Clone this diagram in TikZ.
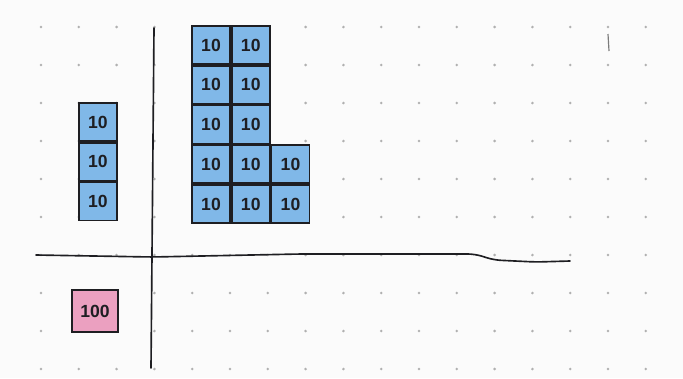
\documentclass[tikz,border=0pt]{standalone}
\usepackage{fontspec}
\setsansfont{Liberation Sans}
\usetikzlibrary{positioning}
\definecolor{paper}{HTML}{FBFBFB}
\definecolor{dotc}{HTML}{B0B0B0}
\definecolor{ink}{HTML}{1E1E22}
\definecolor{ten}{HTML}{80B8E8}
\definecolor{hundred}{HTML}{EBA0C0}

\begin{document}
\begin{tikzpicture}[x=0.03cm,y=-0.03cm,
node distance=0pt,
tenbox/.style={draw=ink,line width=1.5pt,fill=ten,minimum width=1.14cm,minimum height=1.14cm,inner sep=0pt,text=ink,font=\sffamily\bfseries\fontsize{15}{15}\selectfont},
hundredbox/.style={tenbox,fill=hundred,minimum width=1.36cm,minimum height=1.24cm},
axis/.style={draw=ink,line width=1.4pt,line cap=round,rounded corners=6pt}]
\fill[paper] (0,0) rectangle (683,378);
\useasboundingbox (0,0) rectangle (683,378);
% dotted paper
\foreach \i in {0,...,16}
  \foreach \j in {0,...,9}
    \fill[dotc] ({41+37.8*\i},{27+38*\j}) circle (1.2pt);
\draw[dotc!70!black,line width=1pt] (608,34) -- (609,51);
% axes
\coordinate (vtop) at (154,28);
\coordinate (vbot) at (151,368);
\coordinate (hleft) at (36,255);
\coordinate (hright) at (570,261);
\draw[axis] (vtop) -- (vbot);
\draw[axis] (hleft) -- (152,257) -- (300,254) -- (475,254) -- (494,260) -- (536,262) -- (hright);
% left column
\node[tenbox] (l1) at (98,122) {10};
\node[tenbox,below=of l1] (l2) {10};
\node[tenbox,below=of l2] (l3) {10};
% block of tens
\node[tenbox] (a1) at (211,45) {10};
\node[tenbox,right=of a1] (b1) {10};
\node[tenbox,below=of a1] (a2) {10};
\node[tenbox,below=of b1] (b2) {10};
\node[tenbox,below=of a2] (a3) {10};
\node[tenbox,below=of b2] (b3) {10};
\node[tenbox,below=of a3] (a4) {10};
\node[tenbox,below=of b3] (b4) {10};
\node[tenbox,right=of b4] (c4) {10};
\node[tenbox,below=of a4] (a5) {10};
\node[tenbox,below=of b4] (b5) {10};
\node[tenbox,below=of c4] (c5) {10};
% hundred
\node[hundredbox] (h1) at (95,311) {100};
\end{tikzpicture}
\end{document}
